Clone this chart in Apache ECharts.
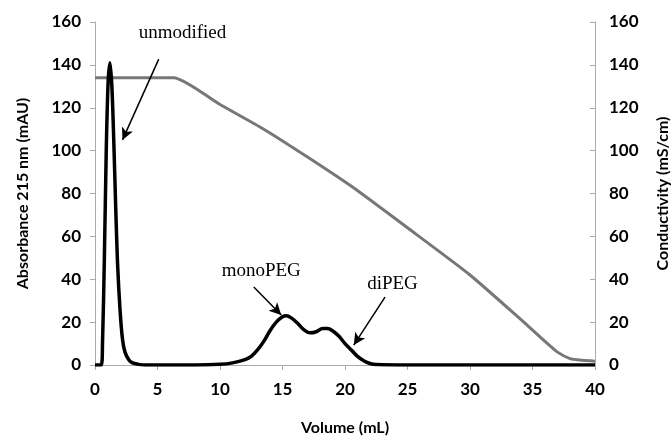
<!DOCTYPE html>
<html lang="en">

<head>
  <meta charset="UTF-8">
  <title>Absorbance / Conductivity</title>
  <script src="https://cdn.jsdelivr.net/npm/echarts@6/dist/echarts.min.js"></script>
  <style>
    html, body { margin: 0; padding: 0; background: #fff; }
    #chart { width: 671px; height: 445px; }
  </style>
</head>

<body>
  <div id="chart"></div>
  <script>
    // absorbance trace (black)
    const absVolume = [0, 0.5, 0.6, 0.75, 0.9, 1.05, 1.2, 1.35, 1.5, 1.65, 1.8, 2.0, 2.2, 2.4, 2.7, 3.0, 3.5, 4, 6, 8, 10, 11, 12, 12.5, 13, 13.5, 14, 14.5, 15, 15.3, 15.7, 16.2, 16.7, 17.2, 17.7, 18.2, 18.6, 19.0, 19.5, 20, 20.5, 21, 21.5, 22, 22.5, 25, 30, 35, 40];
    const absValue = [0, 0, 10, 50, 100, 132, 141, 130, 105, 75, 48, 26, 12, 6, 2.5, 1, 0.3, 0, 0, 0, 0.3, 1, 2.5, 4, 7, 11, 16, 20, 22.5, 23, 22, 19.5, 16.5, 15, 15.5, 17, 17, 16, 13.5, 10, 7, 4, 2, 0.7, 0.2, 0, 0, 0, 0];

    // conductivity trace (grey)
    const condVolume = [0, 5.5, 6.3, 10, 13.5, 17, 20.6, 25, 30, 34.3, 36, 37, 38, 39, 40];
    const condValue = [134, 134, 134, 121.5, 110, 97, 83, 64, 42, 20, 11, 6, 3, 2.2, 1.8];

    const yTicks = [0, 20, 40, 60, 80, 100, 120, 140, 160];
    const xTicks = [0, 5, 10, 15, 20, 25, 30, 35, 40];

    // annotations: [text, textX, textY, arrowFromX, arrowFromY, arrowToX, arrowToY]
    const notes = [
      ['unmodified', 7.0, 155, 5.1, 142.7, 2.2, 105],
      ['monoPEG', 13.3, 44, 12.7, 36.4, 14.9, 23.3],
      ['diPEG', 23.8, 38, 23.2, 31.7, 20.7, 9.3]
    ];

    const zip = (a, b) => a.map((v, i) => [v, b[i]]);

    const chart = echarts.init(document.getElementById('chart'));

    const tickFont = { fontFamily: 'Lato', fontWeight: 'bold', fontSize: 17, color: '#000' };
    const nameFont = { fontFamily: 'Lato', fontWeight: 'bold', fontSize: 16, color: '#000' };

    const option = {
      animation: false,
      grid: { left: 95, right: 76, top: 22, bottom: 80, outerBoundsMode: 'none' },
      xAxis: {
        type: 'value',
        min: xTicks[0], max: xTicks[xTicks.length - 1], interval: 5,
        name: 'Volume (mL)', nameLocation: 'middle', nameGap: 55, nameTextStyle: nameFont,
        axisLine: { show: true, onZero: false, lineStyle: { color: '#aaa', width: 1 } },
        axisTick: { show: true, length: 5, lineStyle: { color: '#aaa' } },
        axisLabel: Object.assign({ margin: 16 }, tickFont),
        splitLine: { show: false }
      },
      yAxis: [
        {
          type: 'value', min: yTicks[0], max: yTicks[yTicks.length - 1], interval: 20,
          name: 'Absorbance 215 nm (mAU)', nameLocation: 'middle', nameGap: 64, nameRotate: 90,
          nameTextStyle: nameFont,
          axisLine: { show: true, lineStyle: { color: '#aaa', width: 1 } },
          axisTick: { show: true, length: 5, lineStyle: { color: '#aaa' } },
          axisLabel: Object.assign({ margin: 14 }, tickFont),
          splitLine: { show: false }
        },
        {
          type: 'value', min: yTicks[0], max: yTicks[yTicks.length - 1], interval: 20,
          position: 'right',
          name: 'Conductivity (mS/cm)', nameLocation: 'middle', nameGap: 60, nameRotate: 90,
          nameTextStyle: nameFont,
          axisLine: { show: true, lineStyle: { color: '#aaa', width: 1 } },
          axisTick: { show: true, inside: true, length: 5, lineStyle: { color: '#aaa' } },
          axisLabel: Object.assign({ margin: 14 }, tickFont),
          splitLine: { show: false }
        }
      ],
      series: [
        {
          name: 'Conductivity',
          type: 'line',
          yAxisIndex: 1,
          data: zip(condVolume, condValue),
          showSymbol: false,
          smooth: 0.2,
          lineStyle: { color: '#777', width: 3 },
          z: 2
        },
        {
          name: 'Absorbance',
          type: 'line',
          yAxisIndex: 0,
          data: zip(absVolume, absValue),
          showSymbol: false,
          smooth: 0.3,
          lineStyle: { color: '#000', width: 3.5 },
          z: 3,
          markLine: {
            silent: true,
            symbol: ['none', 'arrow'],
            symbolSize: [9, 12],
            label: { show: false },
            lineStyle: { color: '#000', width: 1.5, type: 'solid' },
            data: notes.map(n => [{ coord: [n[3], n[4]] }, { coord: [n[5], n[6]] }])
          },
          markPoint: {
            silent: true,
            symbol: 'circle',
            symbolSize: 0,
            label: {
              show: true, position: 'inside',
              fontFamily: 'Liberation Serif', fontSize: 19, color: '#000',
              formatter: p => p.name
            },
            data: notes.map(n => ({ name: n[0], coord: [n[1], n[2]] }))
          }
        }
      ]
    };

    chart.setOption(option);
  </script>
</body>

</html>
